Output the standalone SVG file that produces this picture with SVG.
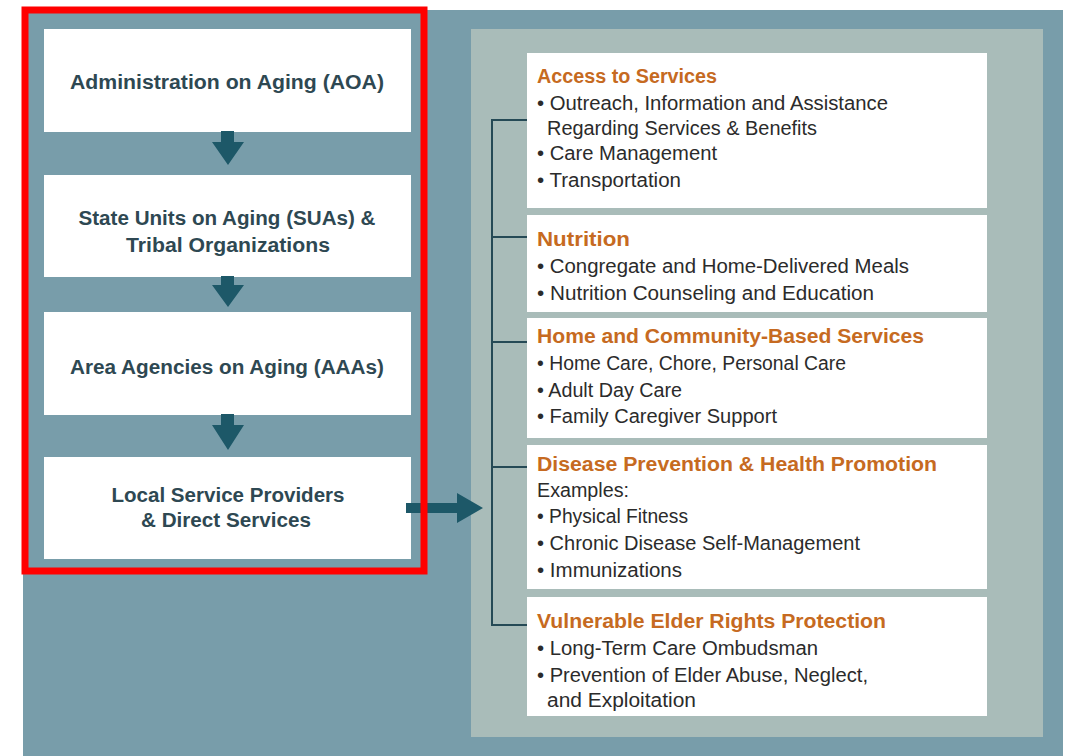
<svg xmlns="http://www.w3.org/2000/svg" width="1079" height="756" viewBox="0 0 1079 756">
<style>
.box{fill:#ffffff}
.lt{font-family:"Liberation Sans",Arial,sans-serif;font-weight:bold;font-size:19.5px;fill:#2e4852;text-anchor:middle}
.hd{font-family:"Liberation Sans",Arial,sans-serif;font-weight:bold;font-size:19.5px;fill:#c66a21}
.it{font-family:"Liberation Sans",Arial,sans-serif;font-size:19.5px;fill:#2b2b2b}
.arr{fill:#1d5868}
.br{fill:none;stroke:#254a56;stroke-width:2}
</style>
<rect x="0" y="0" width="1079" height="756" fill="#ffffff"/>
<rect x="23" y="10" width="1040" height="746" fill="#789daa"/>
<rect x="471" y="29" width="572" height="708" fill="#a9bcb9"/>

<g id="aoa">
<rect class="box" x="44" y="29" width="367" height="103"/>
<text class="lt" x="227" y="89" textLength="314" lengthAdjust="spacingAndGlyphs">Administration on Aging (AOA)</text>
</g>
<g id="sua">
<rect class="box" x="44" y="175" width="367" height="102"/>
<text class="lt" x="227" y="225" textLength="297" lengthAdjust="spacingAndGlyphs">State Units on Aging (SUAs) &amp;</text>
<text class="lt" x="228" y="252" textLength="204" lengthAdjust="spacingAndGlyphs">Tribal Organizations</text>
</g>
<g id="aaa">
<rect class="box" x="44" y="312" width="367" height="103"/>
<text class="lt" x="227" y="374" textLength="314" lengthAdjust="spacingAndGlyphs">Area Agencies on Aging (AAAs)</text>
</g>
<g id="local">
<rect class="box" x="44" y="457" width="367" height="102"/>
<text class="lt" x="228" y="502" textLength="233" lengthAdjust="spacingAndGlyphs">Local Service Providers</text>
<text class="lt" x="226" y="527" textLength="170" lengthAdjust="spacingAndGlyphs">&amp; Direct Services</text>
</g>

<g id="access">
<rect class="box" x="527" y="53" width="460" height="155"/>
<text class="hd" x="537" y="83" textLength="180" lengthAdjust="spacingAndGlyphs">Access to Services</text>
<text class="it" x="537" y="110" textLength="351" lengthAdjust="spacingAndGlyphs">• Outreach, Information and Assistance</text>
<text class="it" x="547" y="135" textLength="270" lengthAdjust="spacingAndGlyphs">Regarding Services &amp; Benefits</text>
<text class="it" x="537" y="160" textLength="180" lengthAdjust="spacingAndGlyphs">• Care Management</text>
<text class="it" x="537" y="187" textLength="144" lengthAdjust="spacingAndGlyphs">• Transportation</text>
</g>
<g id="nutrition">
<rect class="box" x="527" y="215" width="460" height="97"/>
<text class="hd" x="537" y="246" textLength="93" lengthAdjust="spacingAndGlyphs">Nutrition</text>
<text class="it" x="537" y="273" textLength="372" lengthAdjust="spacingAndGlyphs">• Congregate and Home-Delivered Meals</text>
<text class="it" x="537" y="300" textLength="337" lengthAdjust="spacingAndGlyphs">• Nutrition Counseling and Education</text>
</g>
<g id="hcbs">
<rect class="box" x="527" y="318" width="460" height="120"/>
<text class="hd" x="537" y="343" textLength="387" lengthAdjust="spacingAndGlyphs">Home and Community-Based Services</text>
<text class="it" x="537" y="370" textLength="309" lengthAdjust="spacingAndGlyphs">• Home Care, Chore, Personal Care</text>
<text class="it" x="537" y="397" textLength="145" lengthAdjust="spacingAndGlyphs">• Adult Day Care</text>
<text class="it" x="537" y="423" textLength="240" lengthAdjust="spacingAndGlyphs">• Family Caregiver Support</text>
</g>
<g id="disease">
<rect class="box" x="527" y="445" width="460" height="144"/>
<text class="hd" x="537" y="471" textLength="400" lengthAdjust="spacingAndGlyphs">Disease Prevention &amp; Health Promotion</text>
<text class="it" x="537" y="497" textLength="92" lengthAdjust="spacingAndGlyphs">Examples:</text>
<text class="it" x="537" y="523" textLength="151" lengthAdjust="spacingAndGlyphs">• Physical Fitness</text>
<text class="it" x="537" y="550" textLength="323" lengthAdjust="spacingAndGlyphs">• Chronic Disease Self-Management</text>
<text class="it" x="537" y="577" textLength="145" lengthAdjust="spacingAndGlyphs">• Immunizations</text>
</g>
<g id="elder">
<rect class="box" x="527" y="597" width="460" height="119"/>
<text class="hd" x="537" y="628" textLength="349" lengthAdjust="spacingAndGlyphs">Vulnerable Elder Rights Protection</text>
<text class="it" x="537" y="655" textLength="281" lengthAdjust="spacingAndGlyphs">• Long-Term Care Ombudsman</text>
<text class="it" x="537" y="682" textLength="331" lengthAdjust="spacingAndGlyphs">• Prevention of Elder Abuse, Neglect,</text>
<text class="it" x="547" y="707" textLength="149" lengthAdjust="spacingAndGlyphs">and Exploitation</text>
</g>

<g id="connectors">
<path class="arr" d="M221 131 H234 V142 H244 L228 165 L212 142 H221 Z"/>
<path class="arr" d="M221 276 H234 V285 H244 L228 307 L212 285 H221 Z"/>
<path class="arr" d="M221 414 H234 V425 H244 L228 450 L212 425 H221 Z"/>
<path class="arr" d="M406 503 H457 V493 L483 508 L457 523 V513 H406 Z"/>
<path class="br" d="M527 120 H492 V625 H527 M492 237 H527 M492 342 H527 M492 467 H527"/>
</g>

<rect x="25" y="10" width="399" height="561" fill="none" stroke="#ff0000" stroke-width="7"/>
</svg>
